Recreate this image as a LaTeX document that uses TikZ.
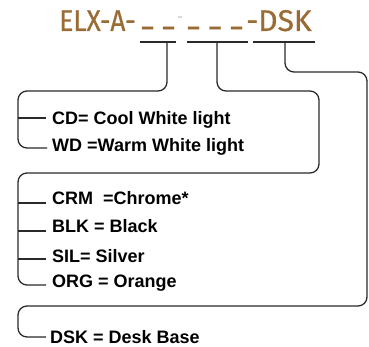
\documentclass[tikz,border=0pt]{standalone}
\usepackage{fontspec}
\setmainfont{Liberation Sans}
\newfontfamily\titlefont[FakeBold=0.6]{Fira Sans}
\newfontfamily\titlenarrow[FakeStretch=0.88,FakeBold=0.6]{Fira Sans}
\definecolor{codebrown}{HTML}{9B6B34}
\definecolor{wire}{HTML}{2A2A2A}
\tikzset{
  code/.style={font=\titlefont\fontsize{30}{30}\selectfont, text=codebrown, inner sep=0pt},
  blank/.style={font=\titlefont\bfseries\fontsize{22}{22}\selectfont, text=codebrown, inner sep=0pt},
  option/.style={font=\bfseries\fontsize{18}{18}\selectfont, inner sep=0pt, anchor=base west},
  bracket/.style={draw=wire, line width=1.3pt, rounded corners=9pt},
  slot/.style={draw=wire, line width=1.3pt}
}
\begin{document}
\begin{tikzpicture}[x=1pt, y=-1pt]
  \useasboundingbox (0,0) rectangle (369,347);

  % --- codice ---
  \node[code, font=\titlenarrow\fontsize{30}{30}\selectfont, anchor=base east] (pre) at (136,31) {ELX-A-};
  \node[blank] (u1) at (147.5,27.5) {\_};
  \node[blank] (u2) at (168.5,27.5) {\_};
  \node[font=\titlefont\fontsize{14}{14}\selectfont, text=gray!45, inner sep=0pt] (gap) at (180,19) {-};
  \node[blank] (u3) at (193.5,27.5) {\_};
  \node[blank] (u4) at (215,27.5) {\_};
  \node[blank] (u5) at (236.5,27.5) {\_};
  \node[code, anchor=base west] (suf) at (246,31) {-DSK};

  % --- segmenti sotto il codice ---
  \coordinate (s1a) at (140,42); \coordinate (s1b) at (176,42);
  \coordinate (s2a) at (187,42); \coordinate (s2b) at (248,42);
  \coordinate (s3a) at (253,42); \coordinate (s3b) at (315,42);
  \draw[slot] (s1a) -- (s1b);
  \draw[slot] (s2a) -- (s2b);
  \draw[slot] (s3a) -- (s3b);

  % --- luce ---
  \node[option] (cd) at (52,125) {CD= Cool White light};
  \node[option] (wd) at (52,152) {WD =Warm White light};

  % --- finitura ---
  \node[option] (crm) at (52,205) {CRM \ =Chrome*};
  \node[option] (blk) at (52,233) {BLK = Black};
  \node[option] (sil) at (52,262) {SIL= Silver};
  \node[option] (org) at (52,287) {ORG = Orange};

  % --- base ---
  \node[option] (dsk) at (50,343) {DSK = Desk Base};

  % --- parentesi ---
  \draw[bracket] (167,42) |- (18,91) |- ([shift={(-5pt,4pt)}]wd.base west);
  \draw[bracket] (217,42) |- (319,91) |- (18,173) |- ([shift={(-6pt,2pt)}]org.base west);
  \draw[bracket] (285,42) |- (367,72) |- (18,306) |- ([shift={(-4pt,6pt)}]dsk.base west);

  % --- tacche ---
  \draw[slot] ([shift={(-6pt,7pt)}]cd.base west) -- ++(-28,0);
  \draw[slot] ([shift={(-6pt,2pt)}]crm.base west) -- ++(-28,0);
  \draw[slot] ([shift={(-6pt,2pt)}]blk.base west) -- ++(-28,0);
  \draw[slot] ([shift={(-6pt,3pt)}]sil.base west) -- ++(-28,0);

\end{tikzpicture}
\end{document}
